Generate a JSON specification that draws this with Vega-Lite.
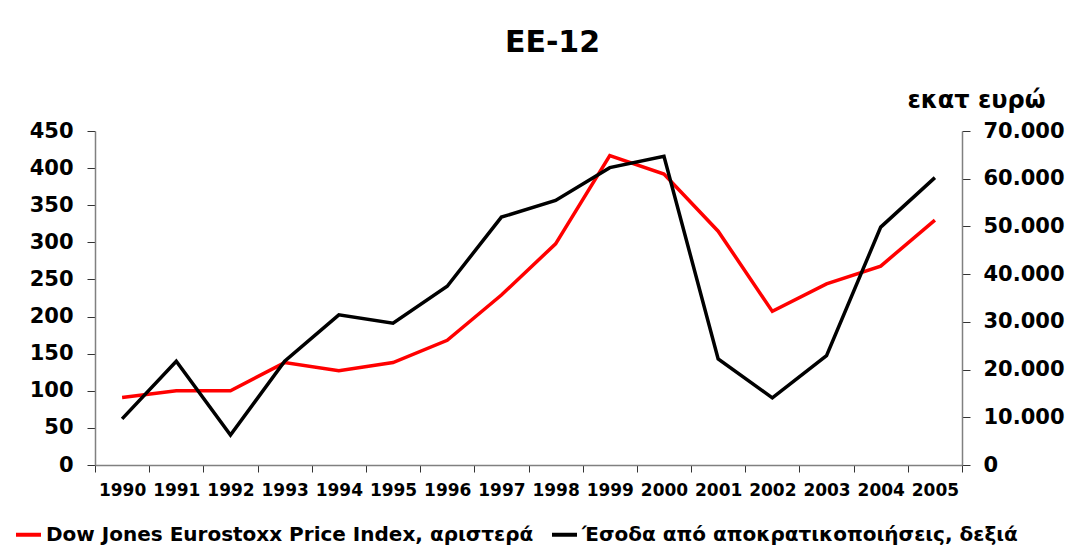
{
  "$schema": "https://vega.github.io/schema/vega-lite/v6.json",
  "autosize": "none",
  "width": 867,
  "height": 334,
  "padding": {"left": 95, "top": 131, "right": 119, "bottom": 89},
  "background": "white",
  "config": {
    "locale": {"number": {"decimal": ",", "thousands": ".", "grouping": [3], "currency": ["", " €"]}},
    "view": {"stroke": null},
    "font": "DejaVu Sans"
  },
  "title": {
    "text": "EE-12",
    "font": "DejaVu Sans",
    "fontSize": 30,
    "fontWeight": "bold",
    "color": "#000000",
    "anchor": "middle",
    "frame": "group",
    "dx": 24,
    "offset": 30
  },
  "data": {
    "values": [
      {"year": 1990, "series": "Dow Jones Eurostoxx Price Index, αριστερά", "value": 91},
      {"year": 1991, "series": "Dow Jones Eurostoxx Price Index, αριστερά", "value": 100},
      {"year": 1992, "series": "Dow Jones Eurostoxx Price Index, αριστερά", "value": 100},
      {"year": 1993, "series": "Dow Jones Eurostoxx Price Index, αριστερά", "value": 138},
      {"year": 1994, "series": "Dow Jones Eurostoxx Price Index, αριστερά", "value": 127},
      {"year": 1995, "series": "Dow Jones Eurostoxx Price Index, αριστερά", "value": 138},
      {"year": 1996, "series": "Dow Jones Eurostoxx Price Index, αριστερά", "value": 168},
      {"year": 1997, "series": "Dow Jones Eurostoxx Price Index, αριστερά", "value": 229},
      {"year": 1998, "series": "Dow Jones Eurostoxx Price Index, αριστερά", "value": 298},
      {"year": 1999, "series": "Dow Jones Eurostoxx Price Index, αριστερά", "value": 417},
      {"year": 2000, "series": "Dow Jones Eurostoxx Price Index, αριστερά", "value": 392},
      {"year": 2001, "series": "Dow Jones Eurostoxx Price Index, αριστερά", "value": 315},
      {"year": 2002, "series": "Dow Jones Eurostoxx Price Index, αριστερά", "value": 207},
      {"year": 2003, "series": "Dow Jones Eurostoxx Price Index, αριστερά", "value": 244},
      {"year": 2004, "series": "Dow Jones Eurostoxx Price Index, αριστερά", "value": 268},
      {"year": 2005, "series": "Dow Jones Eurostoxx Price Index, αριστερά", "value": 330},
      {"year": 1990, "series": "Έσοδα από αποκρατικοποιήσεις, δεξιά", "value": 9660},
      {"year": 1991, "series": "Έσοδα από αποκρατικοποιήσεις, δεξιά", "value": 21740},
      {"year": 1992, "series": "Έσοδα από αποκρατικοποιήσεις, δεξιά", "value": 6300},
      {"year": 1993, "series": "Έσοδα από αποκρατικοποιήσεις, δεξιά", "value": 21740},
      {"year": 1994, "series": "Έσοδα από αποκρατικοποιήσεις, δεξιά", "value": 31470},
      {"year": 1995, "series": "Έσοδα από αποκρατικοποιήσεις, δεξιά", "value": 29710},
      {"year": 1996, "series": "Έσοδα από αποκρατικοποιήσεις, δεξιά", "value": 37470},
      {"year": 1997, "series": "Έσοδα από αποκρατικοποιήσεις, δεξιά", "value": 51950},
      {"year": 1998, "series": "Έσοδα από αποκρατικοποιήσεις, δεξιά", "value": 55460},
      {"year": 1999, "series": "Έσοδα από αποκρατικοποιήσεις, δεξιά", "value": 62320},
      {"year": 2000, "series": "Έσοδα από αποκρατικοποιήσεις, δεξιά", "value": 64690},
      {"year": 2001, "series": "Έσοδα από αποκρατικοποιήσεις, δεξιά", "value": 22240},
      {"year": 2002, "series": "Έσοδα από αποκρατικοποιήσεις, δεξιά", "value": 14060},
      {"year": 2003, "series": "Έσοδα από αποκρατικοποιήσεις, δεξιά", "value": 22930},
      {"year": 2004, "series": "Έσοδα από αποκρατικοποιήσεις, δεξιά", "value": 49860},
      {"year": 2005, "series": "Έσοδα από αποκρατικοποιήσεις, δεξιά", "value": 60220}
    ]
  },
  "encoding": {
    "x": {
      "field": "year",
      "type": "ordinal",
      "bandPosition": 0.5,
      "scale": {"type": "band", "paddingInner": 0, "paddingOuter": 0},
      "axis": {
        "title": null,
        "tickBand": "extent",
        "labelAngle": 0,
        "labelFont": "DejaVu Sans",
        "labelFontSize": 17,
        "labelFontWeight": "bold",
        "labelColor": "#000000",
        "labelPadding": 10,
        "tickSize": 7,
        "tickColor": "#333333",
        "domainColor": "#808080",
        "domainWidth": 1.5,
        "grid": false
      }
    },
    "color": {
      "field": "series",
      "type": "nominal",
      "scale": {
        "domain": ["Dow Jones Eurostoxx Price Index, αριστερά", "Έσοδα από αποκρατικοποιήσεις, δεξιά"],
        "range": ["#ff0000", "#000000"]
      },
      "legend": {
        "title": null,
        "orient": "none",
        "direction": "horizontal",
        "legendX": -81,
        "legendY": 389,
        "symbolType": "stroke",
        "symbolSize": 625,
        "symbolStrokeWidth": 4,
        "labelFont": "DejaVu Sans",
        "labelFontSize": 20,
        "labelFontWeight": "bold",
        "labelColor": "#000000",
        "labelLimit": 0,
        "labelOffset": 3,
        "columnPadding": 10
      }
    }
  },
  "layer": [
    {
      "transform": [{"filter": "datum.series === 'Dow Jones Eurostoxx Price Index, αριστερά'"}],
      "mark": {"type": "line", "strokeWidth": 3.5},
      "encoding": {
        "y": {
          "field": "value",
          "type": "quantitative",
          "scale": {"domain": [0, 450], "nice": false},
          "axis": {
            "orient": "left",
            "title": null,
            "values": [0, 50, 100, 150, 200, 250, 300, 350, 400, 450],
            "labelFont": "DejaVu Sans",
            "labelFontSize": 21,
            "labelFontWeight": "bold",
            "labelColor": "#000000",
            "labelPadding": 14,
            "tickSize": 8,
            "tickColor": "#333333",
            "domainColor": "#808080",
            "domainWidth": 1.5,
            "grid": false
          }
        }
      }
    },
    {
      "transform": [{"filter": "datum.series === 'Έσοδα από αποκρατικοποιήσεις, δεξιά'"}],
      "mark": {"type": "line", "strokeWidth": 3.5},
      "encoding": {
        "y": {
          "field": "value",
          "type": "quantitative",
          "scale": {"domain": [0, 70000], "nice": false},
          "axis": {
            "orient": "right",
            "title": "εκατ ευρώ",
            "titleAngle": 0,
            "titleAlign": "center",
            "titleBaseline": "alphabetic",
            "titleX": 14,
            "titleY": -24,
            "titleFont": "DejaVu Sans",
            "titleFontSize": 24,
            "titleFontWeight": "bold",
            "titleColor": "#000000",
            "values": [0, 10000, 20000, 30000, 40000, 50000, 60000, 70000],
            "format": ",d",
            "labelFont": "DejaVu Sans",
            "labelFontSize": 21,
            "labelFontWeight": "bold",
            "labelColor": "#000000",
            "labelPadding": 13,
            "tickSize": 8,
            "tickColor": "#333333",
            "domainColor": "#808080",
            "domainWidth": 1.5,
            "grid": false
          }
        }
      }
    }
  ],
  "resolve": {"scale": {"y": "independent"}}
}
